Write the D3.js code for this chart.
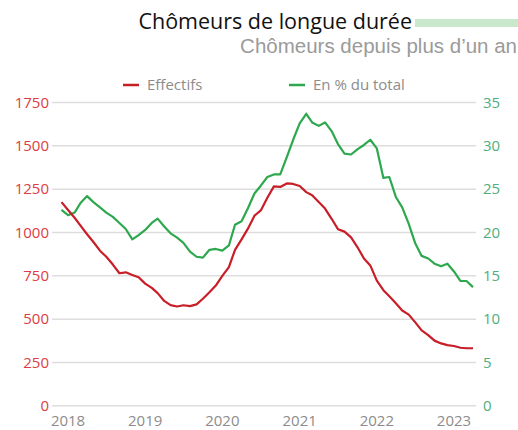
<!DOCTYPE html>
<html><head><meta charset="utf-8">
<script src="https://cdn.jsdelivr.net/npm/d3@7"></script>
<style>html,body{margin:0;padding:0;background:#fff;} svg{display:block;}</style>
</head><body>
<script>
const title = "Chômeurs de longue durée";
const subtitle = "Chômeurs depuis plus d’un an";
const seriesNames = ["Effectifs", "En % du total"];
const startMonth = "2017-12";
const effectifs = [1175,1130,1085,1040,990,945,895,860,815,765,770,755,742,705,680,650,605,581,573,580,575,585,618,655,694,750,800,900,960,1022,1097,1127,1200,1266,1263,1283,1280,1268,1233,1215,1176,1138,1079,1019,1005,972,916,850,810,722,667,632,592,550,526,483,435,408,376,360,350,345,335,332,332];
const pctTotal = [22.6,22.0,22.3,23.4,24.2,23.5,22.9,22.3,21.8,21.1,20.4,19.2,19.7,20.3,21.1,21.6,20.7,19.9,19.4,18.8,17.8,17.2,17.1,18.0,18.1,17.9,18.5,20.9,21.3,22.8,24.5,25.4,26.4,26.7,26.7,28.7,30.7,32.6,33.7,32.7,32.3,32.7,31.7,30.2,29.1,29.0,29.6,30.1,30.7,29.7,26.3,26.4,24.1,22.9,21.0,18.8,17.3,17.0,16.4,16.1,16.4,15.5,14.4,14.4,13.7];
const leftTicks = [0,250,500,750,1000,1250,1500,1750];
const rightTicks = [0,5,10,15,20,25,30,35];
const yearTicks = [2018,2019,2020,2021,2022,2023];

const W = 518, H = 430;
const red = "#c81e28", green = "#2ea84e";
const redText = "#dc3c44", greenText = "#4fae7c", grayText = "#8c8c8c";
const font = "'Open Sans', sans-serif";

const parse = d3.timeParse("%Y-%m");
const t0 = parse(startMonth);
const dates = effectifs.map((_, i) => d3.timeMonth.offset(t0, i));

const svg = d3.select("body").append("svg").attr("width", W).attr("height", H);

const x = d3.scaleTime().domain([dates[0], dates[dates.length-1]]).range([61.5, 473]);
const yL = d3.scaleLinear().domain([0,1750]).range([405.8, 102.5]);
const yR = d3.scaleLinear().domain([0,35]).range([405.8, 102.5]);

// gridlines
svg.append("g").selectAll("line").data(leftTicks).join("line")
  .attr("x1", 52).attr("x2", 476)
  .attr("y1", d => yL(d)).attr("y2", d => yL(d))
  .attr("stroke", "#dddddd").attr("stroke-width", 1.5);

// left axis labels
svg.append("g").selectAll("text").data(leftTicks).join("text")
  .attr("x", 49).attr("y", d => yL(d)).attr("dy", "0.35em")
  .attr("text-anchor", "end").attr("fill", redText)
  .style("font-family", font).style("font-size", "15px")
  .text(d => d);

// right axis labels
svg.append("g").selectAll("text").data(rightTicks).join("text")
  .attr("x", 483).attr("y", d => yR(d)).attr("dy", "0.35em")
  .attr("text-anchor", "start").attr("fill", greenText)
  .style("font-family", font).style("font-size", "15px")
  .text(d => d);

// x labels
svg.append("g").selectAll("text").data(yearTicks).join("text")
  .attr("x", d => x(new Date(d, 0, 1))).attr("y", 426)
  .attr("text-anchor", "middle").attr("fill", grayText)
  .style("font-family", font).style("font-size", "15px")
  .text(d => d);

// lines
const lineL = d3.line().x((d,i) => x(dates[i])).y(d => yL(d));
const lineR = d3.line().x((d,i) => x(dates[i])).y(d => yR(d));
svg.append("path").datum(pctTotal).attr("d", lineR)
  .attr("fill", "none").attr("stroke", green).attr("stroke-width", 2.2).attr("stroke-linejoin", "round");
svg.append("path").datum(effectifs).attr("d", lineL)
  .attr("fill", "none").attr("stroke", red).attr("stroke-width", 2.2).attr("stroke-linejoin", "round");

// title
svg.append("text").attr("x", 412).attr("y", 29).attr("text-anchor", "end")
  .attr("fill", "#111").style("font-family", font).style("font-size", "21.5px")
  .text(title);
svg.append("rect").attr("x", 415).attr("y", 19).attr("width", 103).attr("height", 8).attr("fill", "#c9e8cc");
svg.append("text").attr("x", 517).attr("y", 53).attr("text-anchor", "end")
  .attr("fill", "#9a9a9a").style("font-family", "'Liberation Sans', Arial, sans-serif").style("font-size", "20.5px")
  .text(subtitle);

// legend
const legend = [{name: seriesNames[0], color: red, x: 123}, {name: seriesNames[1], color: green, x: 289}];
const lg = svg.append("g").selectAll("g").data(legend).join("g");
lg.append("line").attr("x1", d => d.x).attr("x2", d => d.x + 16).attr("y1", 85).attr("y2", 85)
  .attr("stroke", d => d.color).attr("stroke-width", 2.5);
lg.append("text").attr("x", d => d.x + 24).attr("y", 85).attr("dy", "0.35em")
  .attr("fill", grayText).style("font-family", font).style("font-size", "15px")
  .text(d => d.name);
</script>
</body></html>
